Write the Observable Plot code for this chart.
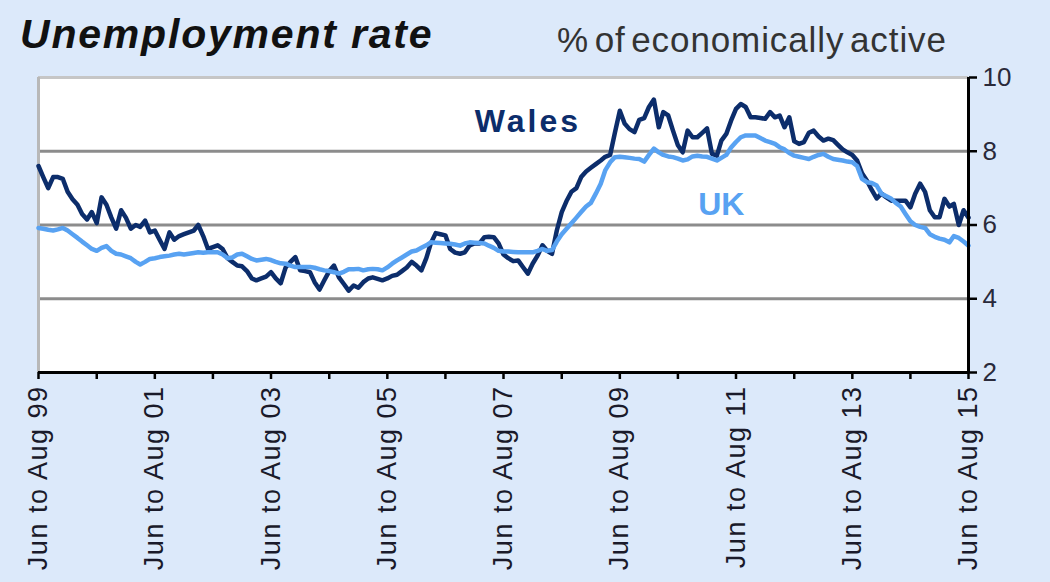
<!DOCTYPE html>
<html><head><meta charset="utf-8">
<script src="https://cdn.jsdelivr.net/npm/d3@7"></script>
<script src="https://cdn.jsdelivr.net/npm/@observablehq/plot@0.6"></script>
<style>
body{margin:0;background:#dce9fa;}
#wrap{position:relative;width:1050px;height:582px;overflow:hidden;font-family:"Liberation Sans",Arial,sans-serif;background:#dce9fa;}
#title{position:absolute;left:20px;top:11px;font-size:41px;font-weight:bold;font-style:italic;color:#111;white-space:nowrap;letter-spacing:1.8px;}
#sub{position:absolute;left:557px;top:20px;font-size:35px;color:#333;white-space:nowrap;word-spacing:-5px;letter-spacing:0.9px;}
#chart{position:absolute;left:0;top:0;}
#chart g[aria-label="x-axis tick label"]{letter-spacing:1.5px;}
#chart g.wales-label text{letter-spacing:3px;}
</style></head>
<body><div id="wrap"><div id="chart"></div><div id="title">Unemployment rate</div><div id="sub">% of economically active</div></div>
<script>
// Rolling three-month periods, Jun to Aug 1999 ... Jun to Aug 2015 (monthly)
const wales = [
7.6,7.3,7.0,7.3,7.3,7.25,6.9,6.7,6.55,6.3,6.15,6.35,
6.05,6.75,6.55,6.2,5.9,6.4,6.2,5.9,6.0,5.95,6.12,5.8,
5.85,5.6,5.35,5.8,5.6,5.7,5.75,5.8,5.85,6.0,5.7,5.35,
5.4,5.45,5.35,5.1,5.0,4.9,4.88,4.75,4.55,4.5,4.55,4.6,
4.72,4.55,4.42,4.85,5.0,5.13,4.77,4.75,4.72,4.45,4.25,4.5,
4.75,4.9,4.58,4.4,4.22,4.36,4.3,4.45,4.55,4.58,4.54,4.5,
4.55,4.62,4.65,4.75,4.85,5.0,4.9,4.77,5.1,5.5,5.78,5.75,
5.72,5.35,5.25,5.22,5.26,5.45,5.5,5.5,5.67,5.68,5.67,5.5,
5.2,5.1,5.02,5.04,4.86,4.68,4.95,5.17,5.45,5.3,5.22,5.85,
6.35,6.65,6.9,7.0,7.3,7.45,7.55,7.65,7.75,7.85,7.9,8.5,
9.1,8.75,8.6,8.52,8.85,8.9,9.2,9.4,8.65,9.06,8.97,8.56,
8.16,7.97,8.56,8.38,8.38,8.5,8.62,7.93,7.88,8.29,8.47,8.83,
9.15,9.28,9.2,8.92,8.92,8.9,8.88,9.06,8.92,8.97,8.65,8.92,
8.27,8.2,8.25,8.5,8.56,8.4,8.29,8.34,8.3,8.18,8.05,7.97,
7.9,7.75,7.4,7.2,6.95,6.72,6.85,6.75,6.66,6.66,6.66,6.66,
6.48,6.85,7.12,6.9,6.4,6.21,6.21,6.71,6.5,6.57,6.0,6.4,
6.2];
const uk = [
5.92,5.9,5.87,5.85,5.88,5.92,5.85,5.75,5.65,5.55,5.45,5.35,
5.3,5.38,5.43,5.3,5.22,5.2,5.15,5.1,5.0,4.93,5.0,5.08,
5.1,5.13,5.15,5.17,5.2,5.22,5.2,5.22,5.24,5.26,5.25,5.26,
5.26,5.26,5.2,5.1,5.12,5.2,5.22,5.15,5.08,5.04,5.06,5.08,
5.05,5.0,4.96,4.95,4.9,4.86,4.86,4.86,4.86,4.84,4.8,4.77,
4.75,4.72,4.68,4.73,4.8,4.8,4.81,4.77,4.8,4.81,4.8,4.77,
4.85,4.95,5.04,5.12,5.2,5.28,5.31,5.38,5.45,5.53,5.52,5.51,
5.5,5.49,5.47,5.44,5.5,5.53,5.52,5.51,5.5,5.44,5.38,5.3,
5.28,5.28,5.27,5.26,5.26,5.26,5.26,5.3,5.35,5.3,5.32,5.55,
5.75,5.9,6.05,6.2,6.35,6.5,6.6,6.85,7.12,7.48,7.7,7.84,
7.85,7.84,7.82,7.8,7.79,7.72,7.9,8.07,7.97,7.9,7.86,7.84,
7.8,7.75,7.78,7.86,7.88,7.86,7.85,7.8,7.75,7.82,7.9,8.1,
8.25,8.38,8.43,8.43,8.43,8.36,8.29,8.25,8.2,8.11,8.05,7.95,
7.88,7.85,7.82,7.79,7.85,7.9,7.93,7.85,7.79,7.77,7.75,7.72,
7.7,7.6,7.25,7.16,7.14,7.07,6.85,6.78,6.71,6.6,6.5,6.3,
6.1,6.0,5.95,5.92,5.75,5.68,5.63,5.6,5.53,5.7,5.65,5.55,
5.44];
const seriesNames = ["Wales", "UK"];
const seriesColors = ["#0c2d6b", "#58a2f2"];
const yTicks = [2, 4, 6, 8, 10];
const gridValues = [4, 6, 8];
const xTickLabels = ["Jun to Aug 99","Jun to Aug 01","Jun to Aug 03","Jun to Aug 05","Jun to Aug 07","Jun to Aug 09","Jun to Aug 11","Jun to Aug 13","Jun to Aug 15"];

// period i starts in June 1999 + i months
const period = i => new Date(Date.UTC(1999, 5 + i, 1));
const data = [];
wales.forEach((v, i) => data.push({date: period(i), value: v, series: "Wales"}));
uk.forEach((v, i) => data.push({date: period(i), value: v, series: "UK"}));
const last = wales.length - 1;
const x0 = period(0), x1 = period(last);
const yearTicks = d3.range(0, last + 1, 12).map(period);
const labelTicks = xTickLabels.map((_, k) => period(k * 24));
const labelOf = new Map(labelTicks.map((d, k) => [+d, xTickLabels[k]]));

const chart = Plot.plot({
  width: 1050, height: 582,
  marginLeft: 38, marginRight: 82, marginTop: 77, marginBottom: 210,
  style: {background: "transparent", fontFamily: "'Liberation Sans', Arial, sans-serif", color: "#222"},
  x: {type: "utc", domain: [x0, x1]},
  y: {domain: [2, 10]},
  color: {domain: seriesNames, range: seriesColors},
  marks: [
    Plot.frame({fill: "white", stroke: null}),
    Plot.ruleY(gridValues, {stroke: "#8c8c8c", strokeWidth: 3}),
    Plot.ruleY([10], {stroke: "#c6c6c6", strokeWidth: 3}),
    Plot.ruleX([x0], {stroke: "#b8b8b8", strokeWidth: 3}),
    Plot.line(data.filter(d => d.series === "Wales"), {x: "date", y: "value", stroke: "series", strokeWidth: 4.5, strokeLinejoin: "round"}),
    Plot.line(data.filter(d => d.series === "UK"), {x: "date", y: "value", stroke: "series", strokeWidth: 4.5, strokeLinejoin: "round"}),
    Plot.ruleX([x1], {stroke: "black", strokeWidth: 3}),
    Plot.ruleY([2], {stroke: "black", strokeWidth: 3}),
    Plot.axisY({anchor: "right", label: null, ticks: yTicks, tickSize: 8, tickPadding: 6, strokeWidth: 2.5, stroke: "black", fontSize: 26, tickFormat: d => String(d), fill: "#2a2a3a"}),
    Plot.axisX({label: null, ticks: yearTicks, tickSize: 7, strokeWidth: 2.5, stroke: "black", tickFormat: () => ""}),
    Plot.axisX({label: null, ticks: labelTicks, tickSize: 0, tickPadding: 13, tickRotate: -90, tickFormat: d => labelOf.get(+d), fontSize: 27, fill: "#1a1a2a"}),
    Plot.text([seriesNames[0]], {x: period(101), y: 8.8, text: d => d, fill: seriesColors[0], fontSize: 32, fontWeight: "bold", className: "wales-label"}),
    Plot.text([seriesNames[1]], {x: period(141), y: 6.55, text: d => d, fill: seriesColors[1], fontSize: 32, fontWeight: "bold"})
  ]
});
document.getElementById("chart").appendChild(chart);
</script></body></html>
